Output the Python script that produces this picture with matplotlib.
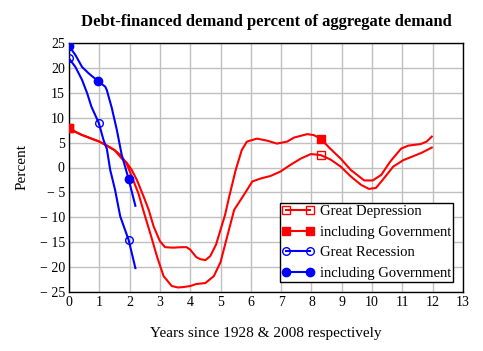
import matplotlib
matplotlib.use("Agg")
import matplotlib.pyplot as plt

# Great Depression (lower red)
gd_x = [0, 0.2, 0.4, 0.7, 1.0, 1.25, 1.5, 1.7, 1.9, 2.07, 2.29, 2.51, 2.68, 2.9, 3.12, 3.39, 3.6, 3.78,
        4.0, 4.2, 4.5, 4.78, 5.0, 5.17, 5.45, 5.77, 6.05, 6.33, 6.65, 6.98, 7.3, 7.65, 7.98, 8.3, 8.63,
        8.96, 9.3, 9.64, 9.9, 10.13, 10.4, 10.7, 11.04, 11.37, 11.65, 11.97]
gd_y = [8.0, 7.2, 6.6, 5.9, 5.2, 4.4, 3.5, 2.5, 0.8, -1.8, -5.2, -9.8, -13.2, -17.8, -21.8, -23.8, -24.1, -24.0,
        -23.8, -23.4, -23.2, -21.8, -19.0, -15.0, -8.5, -5.5, -2.8, -2.2, -1.7, -0.8, 0.5, 1.8, 2.7, 2.5, 1.6,
        0.2, -1.8, -3.5, -4.3, -4.1, -2.1, 0.2, 1.5, 2.3, 3.0, 4.0]
gd_marks = [0, 33]

# Great Depression including Government (upper red)
gdg_x = [0, 0.2, 0.4, 0.7, 1.0, 1.25, 1.5, 1.74, 1.9, 2.07, 2.24, 2.46, 2.63, 2.79, 3.0, 3.17, 3.44, 3.7, 3.88,
         4.0, 4.2, 4.33, 4.5, 4.66, 4.85, 5.0, 5.15, 5.28, 5.5, 5.7, 5.87, 6.2, 6.53, 6.86, 7.2, 7.42, 7.86,
         8.08, 8.3, 8.6, 8.96, 9.3, 9.74, 10.02, 10.3, 10.6, 10.96, 11.2, 11.6, 11.8, 11.97]
gdg_y = [8.0, 7.2, 6.6, 5.9, 5.2, 4.4, 3.5, 1.8, 1.0, -0.5, -2.5, -5.8, -8.5, -11.8, -14.8, -16.0, -16.1, -16.0, -16.0,
         -16.5, -18.0, -18.4, -18.6, -17.8, -15.5, -12.5, -9.5, -6.0, -0.5, 3.5, 5.2, 5.8, 5.4, 4.8, 5.2, 6.0, 6.7,
         6.5, 5.8, 3.9, 1.8, -0.5, -2.6, -2.6, -1.5, 1.2, 3.8, 4.4, 4.7, 5.2, 6.2]
gdg_marks = [0, 38]

# Great Recession (open blue)
gr_x = [0, 0.21, 0.43, 0.6, 0.74, 0.98, 1.14, 1.25, 1.36, 1.52, 1.69, 1.97, 2.19]
gr_y = [21.9, 20.2, 17.6, 14.9, 12.2, 9.0, 5.5, 3.7, -0.5, -4.5, -9.8, -14.6, -20.2]
gr_marks = [0, 5, 11]

# Great Recession including Government (filled blue)
grg_x = [0, 0.21, 0.43, 0.65, 0.95, 1.2, 1.25, 1.41, 1.58, 1.74, 1.85, 1.97, 2.19]
grg_y = [24.4, 22.6, 20.2, 18.9, 17.4, 16.2, 15.5, 12.0, 7.5, 2.5, 0.2, -2.4, -7.7]
grg_marks = [0, 4, 11]

labels = ["Great Depression", "including Government", "Great Recession", "including Government"]
x_ticks = list(range(0, 14))
y_ticks = list(range(-25, 30, 5))

plt.rcParams['font.family'] = ['Liberation Serif', 'DejaVu Serif']

fig = plt.figure(figsize=(4.83, 3.51), dpi=100)
ax = fig.add_axes([69/483, 1-292/351, 394/483, 249/351])

red = '#ff0000'
blue = '#0000ff'
lw = 1.5
ax.plot(gd_x, gd_y, color=red, lw=lw, marker='s', ms=5.5, mfc='none', mec=red, mew=1.0,
        markevery=gd_marks, label=labels[0], zorder=3)
ax.plot(gdg_x, gdg_y, color=red, lw=lw, marker='s', ms=6, mfc=red, mec=red,
        markevery=gdg_marks, label=labels[1], zorder=3)
ax.plot(gr_x, gr_y, color=blue, lw=lw, marker='o', ms=5.5, mfc='none', mec=blue, mew=1.0,
        markevery=gr_marks, label=labels[2], zorder=3)
ax.plot(grg_x, grg_y, color=blue, lw=lw, marker='o', ms=6, mfc=blue, mec=blue,
        markevery=grg_marks, label=labels[3], zorder=3)

ax.set_xlim(0, 13)
ax.set_ylim(-25, 25)
ax.set_xticks(x_ticks)
ax.set_xticklabels([str(t) for t in x_ticks])
ax.set_yticks(y_ticks)
ax.set_yticklabels([("\u2212 " + str(-t)) if t < 0 else str(t) for t in y_ticks])
ax.tick_params(length=0, labelsize=10, pad=3)
ax.grid(True, color='#c0c0c0', lw=1.0)
ax.set_axisbelow(True)
for s in ax.spines.values():
    s.set_color('black')
    s.set_linewidth(1.0)

ax.set_title("Debt-financed demand percent of aggregate demand", fontsize=12,
             fontweight='bold', pad=12)
ax.set_xlabel("Years since 1928 & 2008 respectively", fontsize=11, labelpad=13)
ax.set_ylabel("Percent", fontsize=11, labelpad=8)

leg = ax.legend(loc='lower right', bbox_to_anchor=(0.975, 0.04), numpoints=2, fontsize=10.5,
                frameon=True, fancybox=False, framealpha=1, edgecolor='black',
                borderpad=0.15, labelspacing=0.5, handlelength=2.2, handletextpad=0.4,
                borderaxespad=0)
leg.get_frame().set_linewidth(1.0)

fig.savefig("out.png", dpi=100)
